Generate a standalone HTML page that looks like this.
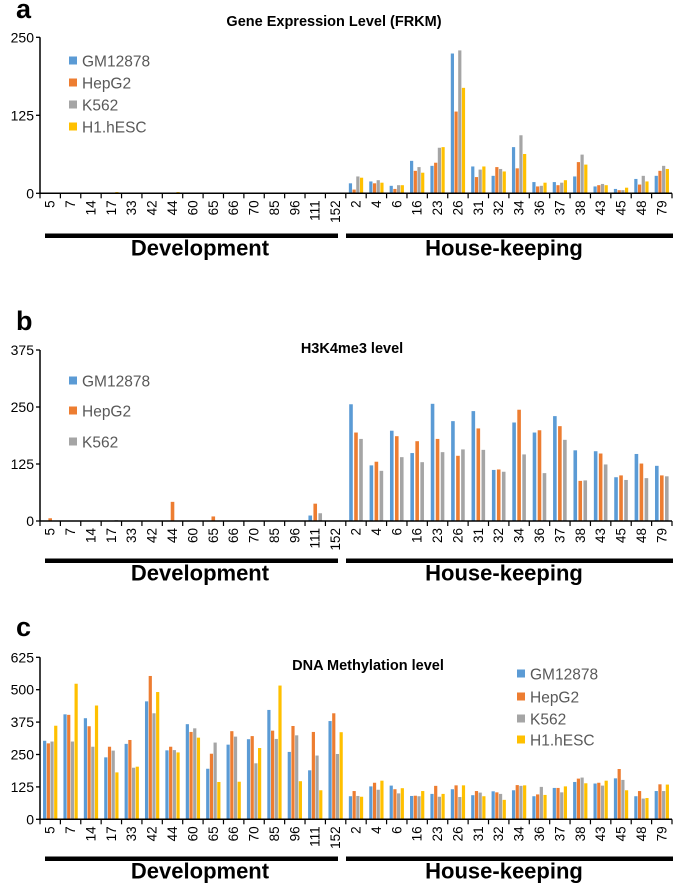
<!DOCTYPE html>
<html><head><meta charset="utf-8">
<style>
html,body{margin:0;padding:0;background:#fff;}
svg{display:block;font-family:"Liberation Sans",sans-serif;}
</style></head>
<body>
<svg id="fig" width="675" height="884" viewBox="0 0 675 884" xmlns="http://www.w3.org/2000/svg"></svg>
<script>
const categories = ["5","7","14","17","33","42","44","60","65","66","70","85","96","111","152","2","4","6","16","23","26","31","32","34","36","37","38","43","45","48","79"];
const seriesNames = ["GM12878","HepG2","K562","H1.hESC"];
const colors = ["#5B9BD5","#ED7D31","#A5A5A5","#FFC000"];

// Panel a: Gene expression
const exprGM    = [0,0,0,0,0,0,0,0,0,0,0,0,0,0,0, 16,19,12,52,44,224,43,28,74,18,18,27,11,7,23,28];
const exprHepG2 = [0,0,0,0,0,0,0,0,0,0,0,0,0,0,0, 6,16,7,36,49,131,26,42,40,11,13,50,13,5,14,36];
const exprK562  = [0,0,0,0,0,0,0,0,0,0,0,0,0,0,0, 27,21,13,42,73,229,38,39,93,12,17,62,15,5,28,44];
const exprH1    = [0,0,0,2,0,0,2,1,0,0,0,0,0,0,0, 25,17,13,33,74,169,43,35,63,17,21,46,13,9,19,39];
const ticksA = [0,125,250];

// Panel b: H3K4me3
const h3GM    = [0,0,0,0,0,0,0,0,0,0,0,0,0,12,0, 256,122,198,149,257,219,241,112,216,194,230,155,153,96,147,121];
const h3HepG2 = [6,0,0,0,0,0,42,0,10,0,0,0,0,38,0, 194,130,186,175,180,143,203,113,244,199,208,88,148,100,126,100];
const h3K562  = [0,0,0,2,0,0,0,0,0,0,0,0,0,17,0, 180,110,140,129,151,157,156,108,146,105,178,89,124,90,94,98];
const ticksB = [0,125,250,375];

// Panel c: DNA methylation
const mGM    = [303,405,390,239,291,455,266,367,195,288,309,422,260,189,379, 89,127,130,90,98,116,93,108,112,89,121,144,138,158,89,109];
const mHepG2 = [293,403,359,280,306,553,280,337,253,340,321,342,360,337,409, 109,141,116,91,129,131,109,104,132,96,121,157,141,194,109,135];
const mK562  = [300,300,280,265,199,409,267,351,296,319,216,310,324,246,252, 90,114,100,89,87,86,103,98,129,125,104,161,130,152,80,109];
const mH1    = [361,523,439,181,203,491,258,315,144,145,275,516,147,112,336, 87,149,120,109,98,131,89,75,131,94,127,139,149,112,82,134];
const ticksC = [0,125,250,375,500,625];

const NS = "http://www.w3.org/2000/svg";
const svg = document.getElementById("fig");
function mk(tag, attrs, parent, text){
  const e = document.createElementNS(NS, tag);
  for (const k in attrs) e.setAttribute(k, attrs[k]);
  if (text !== undefined) e.textContent = text;
  (parent||svg).appendChild(e);
  return e;
}

const X0 = 40, X1 = 672;
const catW = (X1 - X0) / categories.length;
function xCat(i){ return X0 + catW * (i + 0.5); }

function drawPanel(cfg){
  const g = mk("g", {});
  
  
  const yScale = v => cfg.y0 - (v / cfg.max) * (cfg.y0 - cfg.yTop);
  const L = mk("text", {x:16, y:cfg.letterY, "font-size":27, "font-weight":"bold", fill:"#000"}, g, cfg.letter);
  
  
  const T = mk("text", {x:cfg.titleX, y:cfg.titleY, "font-size":14.5, "font-weight":"bold", fill:"#000", "text-anchor":"middle"}, g, cfg.title);
  
  
  cfg.ticks.forEach(t => {
    const y = yScale(t);
    const tl = mk("text", {x:34, y:y+5, "font-size":14, fill:"#000", "text-anchor":"end"}, g, String(t));
    
    
    mk("line", {x1:X0-4, x2:X0, y1:y, y2:y, stroke:"#000", "stroke-width":1.3}, g);
  });
  const ns = cfg.series.length;
  cfg.series.forEach((vals, s) => {
    vals.forEach((v, i) => {
      if (v <= 0) return;
      const cx = xCat(i) + (s - (ns-1)/2) * cfg.step;
      const y = yScale(v);
      const r = mk("rect", {x:cx - cfg.bw/2, y:y, width:cfg.bw, height:cfg.y0 - y, fill:colors[s]}, g);
      
      
    });
  });
  const ya = mk("line", {x1:X0, x2:X0, y1:cfg.yTop, y2:cfg.y0, stroke:"#000", "stroke-width":1.5}, g);
  
  
  const xa = mk("line", {x1:X0, x2:X1, y1:cfg.y0, y2:cfg.y0, stroke:"#000", "stroke-width":1.5}, g);
  
  
  for (let i = 0; i <= categories.length; i++){
    const x = X0 + catW * i;
    mk("line", {x1:x, x2:x, y1:cfg.y0, y2:cfg.y0+5, stroke:"#000", "stroke-width":1.2}, g);
  }
  categories.forEach((c, i) => {
    const x = xCat(i) + 4.5;
    const yy = cfg.y0 + 7;
    const t = mk("text", {x:x, y:yy, "font-size":13.5, fill:"#000", "text-anchor":"end", transform:`rotate(-90 ${x} ${yy})`}, g, c);
    
    
  });
  const d1 = mk("rect", {x:45, y:cfg.groupY-2, width:293, height:4.5, fill:"#000"}, g);
  
  
  const d2 = mk("rect", {x:346, y:cfg.groupY-2, width:327, height:4.5, fill:"#000"}, g);
  
  
  const t1 = mk("text", {x:200, y:cfg.groupY+20, "font-size":22, "font-weight":"bold", fill:"#000", "text-anchor":"middle"}, g, "Development");
  
  
  const t2 = mk("text", {x:504, y:cfg.groupY+20, "font-size":22, "font-weight":"bold", fill:"#000", "text-anchor":"middle"}, g, "House-keeping");
  
  
  cfg.legendRows.forEach((ly, s) => {
    const lg = mk("g", {}, g);
    
    
    mk("rect", {x:cfg.legendX, y:ly-4.5, width:8, height:8, fill:colors[s]}, lg);
    mk("text", {x:cfg.legendX+13, y:ly+5.5, "font-size":15.5, fill:"#595959"}, lg, seriesNames[s]);
  });
}

drawPanel({name:"gene-expression-chart", letter:"a", letterY:18, title:"Gene Expression Level (FRKM)", titleX:334, titleY:26,
  y0:193.3, yTop:37.3, max:250, ticks:ticksA, series:[exprGM, exprHepG2, exprK562, exprH1],
  bw:3.2, step:3.7, groupY:235.5, legendX:69, legendRows:[61,83,105,127]});

drawPanel({name:"h3k4me3-chart", letter:"b", letterY:330, title:"H3K4me3 level", titleX:352, titleY:353,
  y0:521, yTop:350, max:375, ticks:ticksB, series:[h3GM, h3HepG2, h3K562],
  bw:3.6, step:5, groupY:560.5, legendX:69, legendRows:[381,411,442]});

drawPanel({name:"dna-methylation-chart", letter:"c", letterY:636, title:"DNA Methylation level", titleX:368, titleY:670,
  y0:819.3, yTop:657.3, max:625, ticks:ticksC, series:[mGM, mHepG2, mK562, mH1],
  bw:3.2, step:3.7, groupY:858.5, legendX:517, legendRows:[674,697,719,740]});
</script>
</body></html>
